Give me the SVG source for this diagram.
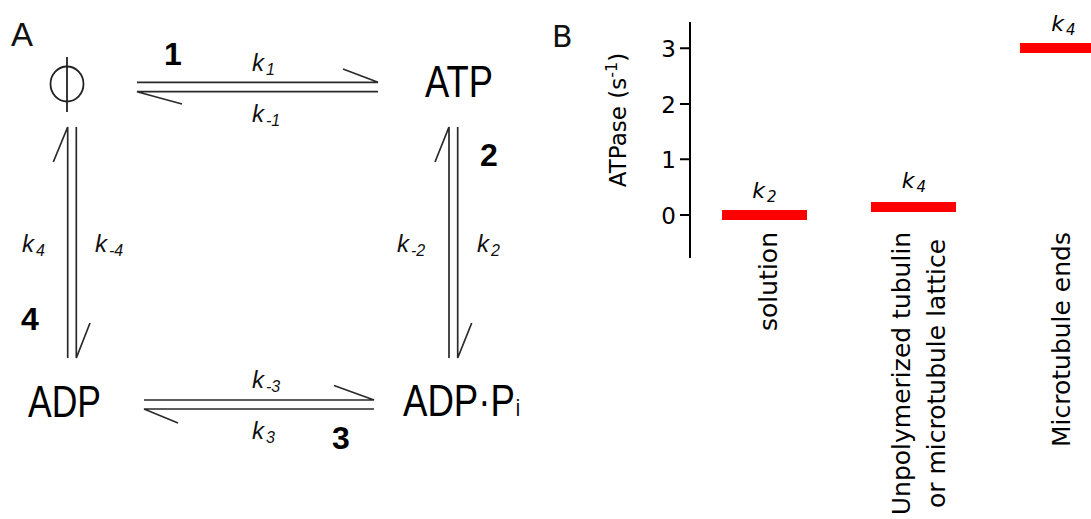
<svg xmlns="http://www.w3.org/2000/svg" width="1091" height="519" viewBox="0 0 1091 519">
  <style>
    .panel { font-family: "Liberation Sans", Arial, sans-serif; font-size: 33px; fill: #111; }
    .species { font-family: "Liberation Sans", Arial, sans-serif; font-size: 45px; fill: #000; }
    .step { font-family: "Liberation Sans", Arial, sans-serif; font-size: 32px; font-weight: bold; fill: #000; }
    .rate { font-family: "Liberation Sans", Arial, sans-serif; font-size: 24px; font-style: italic; fill: #111; }
    .sub { font-size: 16px; }
    .arrow { stroke: #2a2a2a; stroke-width: 1.7; fill: none; stroke-linecap: butt; }
    .axis { stroke: #000; stroke-width: 2; fill: none; }
    .tick { font-family: "DejaVu Sans", sans-serif; font-size: 23px; fill: #000; }
    .cat { font-family: "DejaVu Sans", sans-serif; font-size: 25px; fill: #000; }
    .brate { font-family: "DejaVu Sans", sans-serif; font-size: 22px; font-style: italic; fill: #000; }
    .bsub { font-size: 15px; }
    .bar { fill: #ff0000; }
  </style>

  <!-- Panel A: reaction cycle -->
  <text class="panel" x="11" y="46">A</text>

  <g id="node-empty">
    <ellipse cx="67" cy="84" rx="16.5" ry="17.5" fill="none" stroke="#222" stroke-width="1.8"/>
    <line x1="67" y1="57" x2="67" y2="112" stroke="#222" stroke-width="1.8"/>
  </g>
  <g id="node-atp">
    <text class="species" x="425" y="97" textLength="68" lengthAdjust="spacingAndGlyphs">ATP</text>
  </g>
  <g id="node-adp">
    <text class="species" x="28" y="417" textLength="73" lengthAdjust="spacingAndGlyphs">ADP</text>
  </g>
  <g id="node-adp-pi">
    <text class="species" x="403" y="416" textLength="117" lengthAdjust="spacingAndGlyphs">ADP·P<tspan font-size="24" dx="1">i</tspan></text>
  </g>

  <g id="connectors">
    <!-- step 1: empty <-> ATP -->
    <path class="arrow" d="M137 82.3 H378 L343 69"/>
    <path class="arrow" d="M378 91.7 H137 L182 104"/>
    <!-- step 2: ATP <-> ADP.Pi -->
    <path class="arrow" d="M449 358 V127 L435 162"/>
    <path class="arrow" d="M457.7 127 V358 L471.7 323"/>
    <!-- step 3: ADP.Pi <-> ADP -->
    <path class="arrow" d="M144 400 H374 L334 385.5"/>
    <path class="arrow" d="M374 409 H144 L178 423"/>
    <!-- step 4: ADP <-> empty -->
    <path class="arrow" d="M67.7 358 V127 L53.3 162"/>
    <path class="arrow" d="M76.3 127 V358 L90 323"/>
  </g>

  <g id="step-labels">
    <text class="step" x="164" y="65">1</text>
    <text class="step" x="480" y="166">2</text>
    <text class="step" x="332" y="449">3</text>
    <text class="step" x="21" y="330">4</text>
  </g>

  <g id="rate-labels">
    <text class="rate" x="252" y="71">k<tspan class="sub" dx="2" dy="4">1</tspan></text>
    <text class="rate" x="252" y="122">k<tspan class="sub" dx="2" dy="4">-1</tspan></text>
    <text class="rate" x="477" y="252">k<tspan class="sub" dx="2" dy="4">2</tspan></text>
    <text class="rate" x="397" y="252">k<tspan class="sub" dx="2" dy="4">-2</tspan></text>
    <text class="rate" x="252" y="439">k<tspan class="sub" dx="2" dy="4">3</tspan></text>
    <text class="rate" x="252" y="388">k<tspan class="sub" dx="2" dy="4">-3</tspan></text>
    <text class="rate" x="22" y="252">k<tspan class="sub" dx="2" dy="4">4</tspan></text>
    <text class="rate" x="95" y="252">k<tspan class="sub" dx="2" dy="4">-4</tspan></text>
  </g>

  <!-- Panel B: ATPase rates -->
  <text class="panel" x="552" y="47" style="font-family:'DejaVu Sans',sans-serif;font-size:30px">B</text>

  <g id="axis">
    <line class="axis" x1="690" y1="22" x2="690" y2="258"/>
    <path class="axis" d="M680 48.3 H690 M680 104 H690 M680 159.3 H690 M680 215 H690"/>
    <text class="tick" x="676" y="57" text-anchor="end">3</text>
    <text class="tick" x="676" y="112.5" text-anchor="end">2</text>
    <text class="tick" x="676" y="168" text-anchor="end">1</text>
    <text class="tick" x="676" y="223.5" text-anchor="end">0</text>
    <text class="tick" transform="translate(625.5 120) rotate(-90)" text-anchor="middle">ATPase (s<tspan font-size="16" dy="-9">-1</tspan><tspan dy="9">)</tspan></text>
  </g>

  <g id="bars">
    <rect class="bar" x="722" y="210" width="85" height="10"/>
    <rect class="bar" x="871" y="202" width="85" height="10"/>
    <rect class="bar" x="1020" y="43" width="85" height="10"/>
    <text class="brate" x="764.5" y="198" text-anchor="middle">k<tspan class="bsub" dx="2" dy="4">2</tspan></text>
    <text class="brate" x="914" y="188" text-anchor="middle">k<tspan class="bsub" dx="2" dy="4">4</tspan></text>
    <text class="brate" x="1063.5" y="31" text-anchor="middle">k<tspan class="bsub" dx="2" dy="4">4</tspan></text>
  </g>

  <g id="categories">
    <text class="cat" transform="translate(777 232) rotate(-90)" text-anchor="end">solution</text>
    <text class="cat" transform="translate(910 373.5) rotate(-90)" text-anchor="middle">Unpolymerized tubulin</text>
    <text class="cat" transform="translate(945 373.5) rotate(-90)" text-anchor="middle">or microtubule lattice</text>
    <text class="cat" transform="translate(1070 232) rotate(-90)" text-anchor="end">Microtubule ends</text>
  </g>
</svg>
